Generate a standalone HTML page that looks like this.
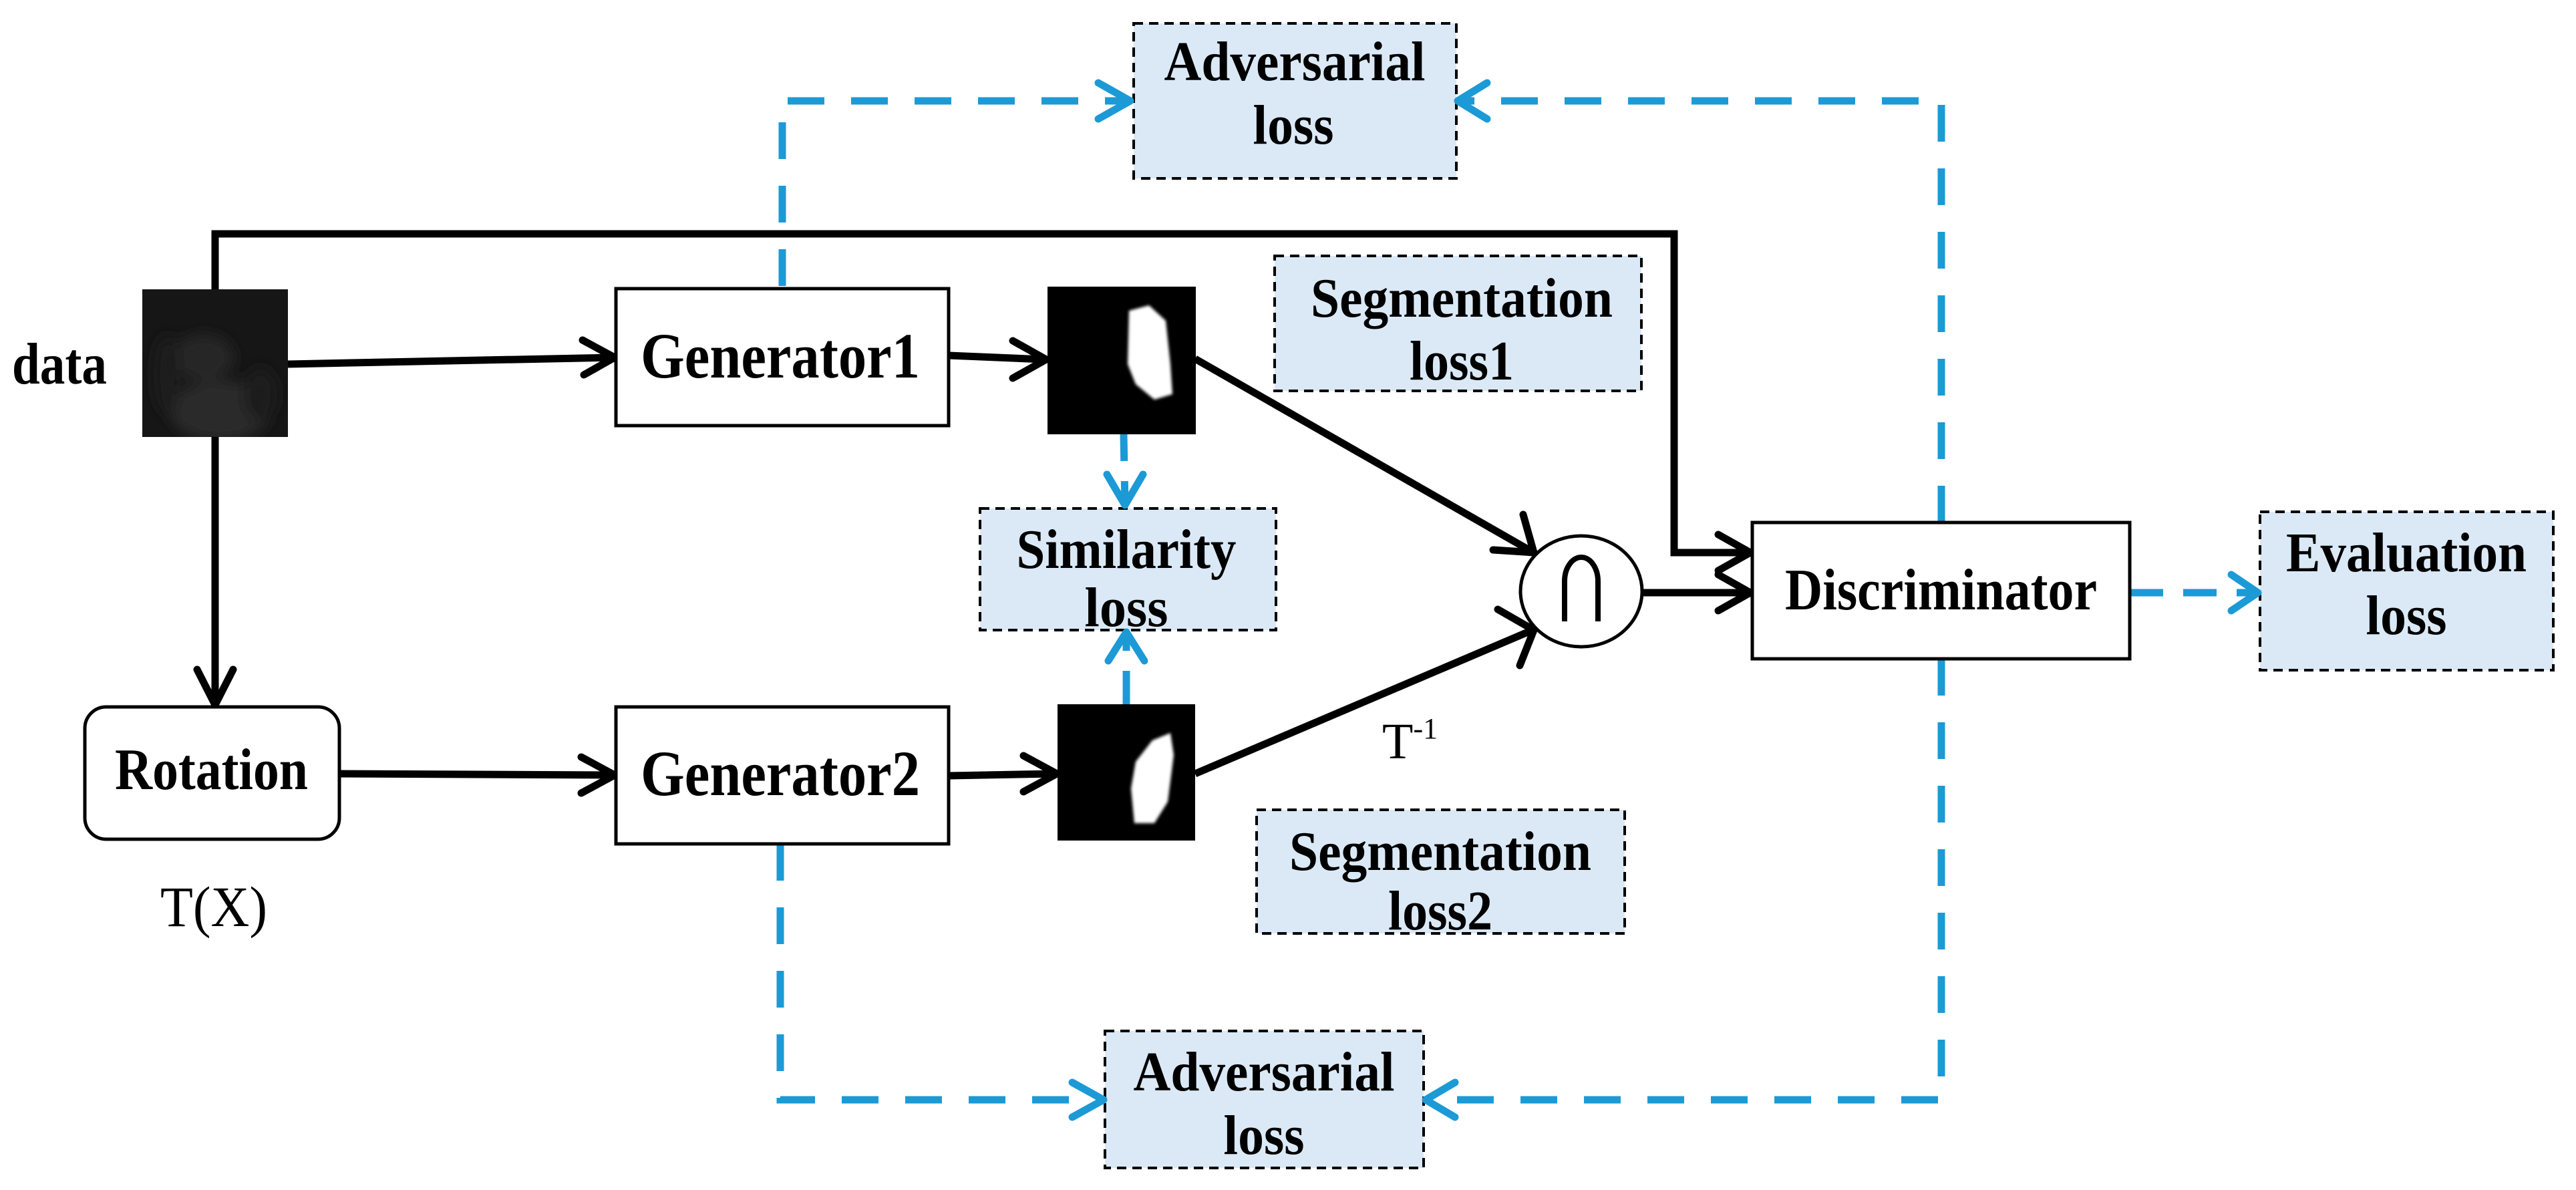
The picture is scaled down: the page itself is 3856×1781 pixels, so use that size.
<!DOCTYPE html>
<html><head><meta charset="utf-8"><style>
html,body{margin:0;padding:0;background:#fff;}
svg{display:block;}
text{font-family:"Liberation Serif",serif;font-weight:bold;fill:#000;}
</style></head><body>
<svg width="3856" height="1781" viewBox="0 0 3856 1781" xmlns="http://www.w3.org/2000/svg">
<defs>
<filter id="bl"><feGaussianBlur stdDeviation="2"/></filter>
<filter id="bl2"><feGaussianBlur stdDeviation="10"/></filter>
<clipPath id="cp"><rect x="213" y="433" width="218" height="221"/></clipPath>
</defs>
<rect width="3856" height="1781" fill="#fff"/>

<g fill="#dbe9f6" stroke="#000" stroke-width="4" stroke-dasharray="14 9">
<rect x="1697" y="35" width="483" height="232"/>
<rect x="1908" y="383" width="549" height="202"/>
<rect x="1467" y="761" width="443" height="182"/>
<rect x="3383" y="766" width="439" height="237"/>
<rect x="1881" y="1212" width="551" height="185"/>
<rect x="1654" y="1543" width="477" height="205"/>
</g>

<g fill="none" stroke="#1c9ad6" stroke-width="11" stroke-dasharray="55 40">
<path d="M1171 428 V151 H1690"/>
<path d="M2906 782 V151 H2188"/>
<path d="M1168 1263 V1646 H1648"/>
<path d="M2906 986 V1646 H2138"/>
<path d="M3188 887 H3378" stroke-dasharray="50 30"/>
<path d="M1682 650 L1684 755" stroke-dasharray="40 30"/>
<path d="M1686 1054 V950" stroke-dasharray="50 30"/>
</g>
<g fill="none" stroke="#1c9ad6" stroke-width="11" stroke-linecap="round" stroke-linejoin="round">
<polyline points="1644,124 1692,151 1644,178"/>
<polyline points="2226,124 2182,151 2226,178"/>
<polyline points="1605,1620 1652,1646 1605,1672"/>
<polyline points="2178,1620 2134,1646 2178,1672"/>
<polyline points="3340,860 3380,887 3340,914"/>
<polyline points="1657,710 1684,756 1711,710"/>
<polyline points="1659,989 1686,946 1713,989"/>
</g>

<g fill="none" stroke="#000" stroke-width="11" stroke-linejoin="miter">
<path d="M322 433 V350 H2506 V827 H2618"/>
<path d="M322 654 V1052"/>
<path d="M431 545 L918 535"/>
<path d="M1420 532 L1564 538"/>
<path d="M508 1158 L918 1160"/>
<path d="M1420 1161 L1580 1158"/>
<path d="M1789 537 L2294 826"/>
<path d="M1789 1158 L2294 943"/>
<path d="M2459 887 L2618 887"/>
</g>
<g fill="none" stroke="#000" stroke-width="11" stroke-linecap="round" stroke-linejoin="miter">
<polyline points="295,1002 322,1055 349,1002"/>
<polyline points="872,509 920,535 874,561"/>
<polyline points="1516,510 1566,538 1516,566"/>
<polyline points="870,1133 920,1160 870,1187"/>
<polyline points="1532,1131 1582,1158 1532,1185"/>
<polyline points="2572,800 2620,827 2572,854"/>
<polyline points="2572,860 2620,887 2572,914"/>
<polyline points="2235,823 2296,827 2280,770"/>
<polyline points="2242,912 2296,943 2275,996"/>
</g>

<g fill="#fff" stroke="#000" stroke-width="5">
<rect x="922" y="432" width="498" height="205"/>
<rect x="922" y="1058" width="498" height="205"/>
<rect x="2623" y="782" width="565" height="204"/>
<rect x="127" y="1058" width="381" height="198" rx="32"/>
<ellipse cx="2367" cy="885" rx="91" ry="83"/>
</g>

<rect x="213" y="433" width="218" height="221" fill="#161616"/>
<g filter="url(#bl2)" clip-path="url(#cp)">
<ellipse cx="330" cy="615" rx="75" ry="45" fill="#2c2c2c"/>
<ellipse cx="305" cy="535" rx="45" ry="35" fill="#262626"/>
<ellipse cx="390" cy="590" rx="25" ry="40" fill="#1e1e1e"/>
<ellipse cx="250" cy="560" rx="20" ry="60" fill="#1c1c1c"/>
</g>

<rect x="1568" y="429" width="222" height="221" fill="#000"/>
<path d="M1690 465 L1720 457 L1745 480 L1752 545 L1755 590 L1728 598 L1700 575 L1688 545 Z" fill="#fff" filter="url(#bl)"/>
<rect x="1583" y="1054" width="206" height="204" fill="#000"/>
<path d="M1700 1140 L1725 1108 L1752 1097 L1757 1130 L1748 1200 L1728 1232 L1698 1232 L1693 1180 Z" fill="#fff" filter="url(#bl)"/>

<path d="M2342 930 V870 A25 36 0 0 1 2392 870 V930" fill="none" stroke="#000" stroke-width="8"/>

<text x="18" y="574" font-size="88" textLength="142" lengthAdjust="spacingAndGlyphs">data</text>
<text x="959" y="565" font-size="96" textLength="418" lengthAdjust="spacingAndGlyphs">Generator1</text>
<text x="959" y="1190" font-size="96" textLength="418" lengthAdjust="spacingAndGlyphs">Generator2</text>
<text x="172" y="1181" font-size="88" textLength="289" lengthAdjust="spacingAndGlyphs">Rotation</text>
<text x="2672" y="912" font-size="88" textLength="467" lengthAdjust="spacingAndGlyphs">Discriminator</text>
<text x="240" y="1386" font-size="86" style="font-weight:normal" textLength="160" lengthAdjust="spacingAndGlyphs">T(X)</text>
<text x="2069" y="1135" font-size="76" style="font-weight:normal">T<tspan font-size="44" dy="-30">-1</tspan></text>

<g font-size="84" text-anchor="middle">
<text x="1938" y="120" textLength="391" lengthAdjust="spacingAndGlyphs">Adversarial</text>
<text x="1936" y="215" textLength="121" lengthAdjust="spacingAndGlyphs">loss</text>
<text x="2188" y="474" textLength="452" lengthAdjust="spacingAndGlyphs">Segmentation</text>
<text x="2188" y="568" textLength="156" lengthAdjust="spacingAndGlyphs">loss1</text>
<text x="1686" y="850" textLength="329" lengthAdjust="spacingAndGlyphs">Similarity</text>
<text x="1686" y="937" textLength="125" lengthAdjust="spacingAndGlyphs">loss</text>
<text x="3602" y="855" textLength="360" lengthAdjust="spacingAndGlyphs">Evaluation</text>
<text x="3602" y="949" textLength="121" lengthAdjust="spacingAndGlyphs">loss</text>
<text x="2156" y="1302" textLength="452" lengthAdjust="spacingAndGlyphs">Segmentation</text>
<text x="2156" y="1391" textLength="156" lengthAdjust="spacingAndGlyphs">loss2</text>
<text x="1892" y="1632" textLength="391" lengthAdjust="spacingAndGlyphs">Adversarial</text>
<text x="1892" y="1727" textLength="121" lengthAdjust="spacingAndGlyphs">loss</text>
</g>
</svg>
</body></html>
